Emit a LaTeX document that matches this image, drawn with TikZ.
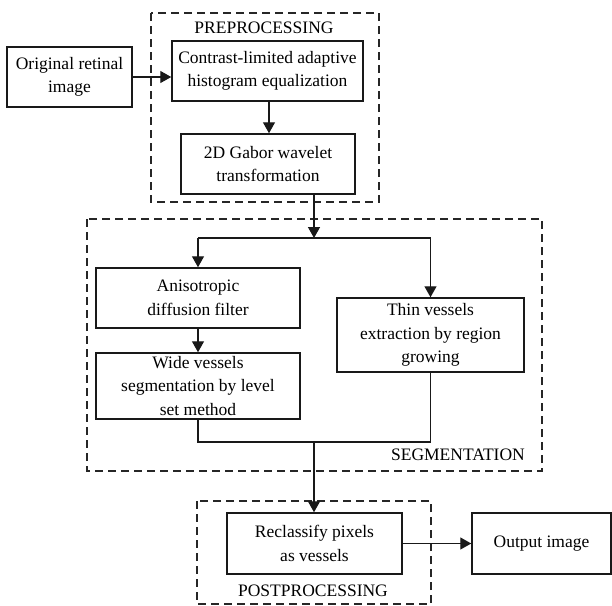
\documentclass[tikz,border=0pt]{standalone}
\usepackage{fontspec}
\setmainfont{Liberation Serif}
\usetikzlibrary{arrows.meta}
\begin{document}
\begin{tikzpicture}[x=1pt,y=-1pt,
  box/.style={draw=black!90, line width=1.5pt, align=center, inner sep=0pt,
    font=\fontsize{17.5}{23.5}\selectfont},
  grp/.style={draw=black!85, line width=1.4pt, dash pattern=on 8pt off 5pt},
  lbl/.style={font=\fontsize{17.5}{21}\selectfont, inner sep=0pt},
  conn/.style={draw=black!90, line width=1.4pt},
  arr/.style={conn, -{Triangle[length=11pt,width=12pt]}}]
\useasboundingbox (0,0) rectangle (612,605);
% groups
\draw[grp] (151,13) rectangle (379,202);
\draw[grp] (87,219) rectangle (542,471);
\draw[grp] (197,501) rectangle (431,604);
\node[lbl] (lpre) at (264,28) {PREPROCESSING};
\node[lbl, anchor=east] (lseg) at (525,455) {SEGMENTATION};
\node[lbl] (lpost) at (313,591) {POSTPROCESSING};
% boxes
\node[box, minimum width=125pt, minimum height=60pt] (orig) at (69.5,77) {Original retinal\\image};
\node[box, minimum width=191pt, minimum height=60pt] (clahe) at (267.5,71) {Contrast-limited adaptive\\histogram equalization};
\node[box, minimum width=174pt, minimum height=60pt] (gabor) at (268,164) {2D Gabor wavelet\\transformation};
\node[box, minimum width=204pt, minimum height=60pt] (aniso) at (198,298) {Anisotropic\\diffusion filter};
\node[box, minimum width=204pt, minimum height=66pt] (wide) at (198,386) {Wide vessels\\segmentation by level\\set method};
\node[box, minimum width=187pt, minimum height=74pt] (thin) at (430.5,335) {Thin vessels\\extraction by region\\growing};
\node[box, minimum width=175pt, minimum height=61pt] (recl) at (314.5,543.5) {Reclassify pixels\\as vessels};
\node[box, minimum width=139pt, minimum height=61pt] (out) at (541.5,543.5) {Output image};
% coordinates
\coordinate (split) at (314,238);
\coordinate (merge) at (314,442);
% connectors
\draw[arr] (orig.east) -- (orig.east -| clahe.west);
\draw[arr] (clahe.south -| 269,0) -- (gabor.north -| 269,0);
\draw[arr] (gabor.south -| split) -- (split);
\draw[conn] (aniso.north |- split) -- (thin.north |- split);
\draw[arr] (aniso.north |- split) -- (aniso.north);
\draw[arr] (thin.north |- split) -- (thin.north);
\draw[arr] (aniso.south) -- (wide.north);
\draw[conn] (wide.south) -- (wide.south |- merge) -- (thin.south |- merge) -- (thin.south);
\draw[arr] (merge) -- (recl.north -| merge);
\draw[arr] (recl.east) -- (out.west);
\end{tikzpicture}
\end{document}
